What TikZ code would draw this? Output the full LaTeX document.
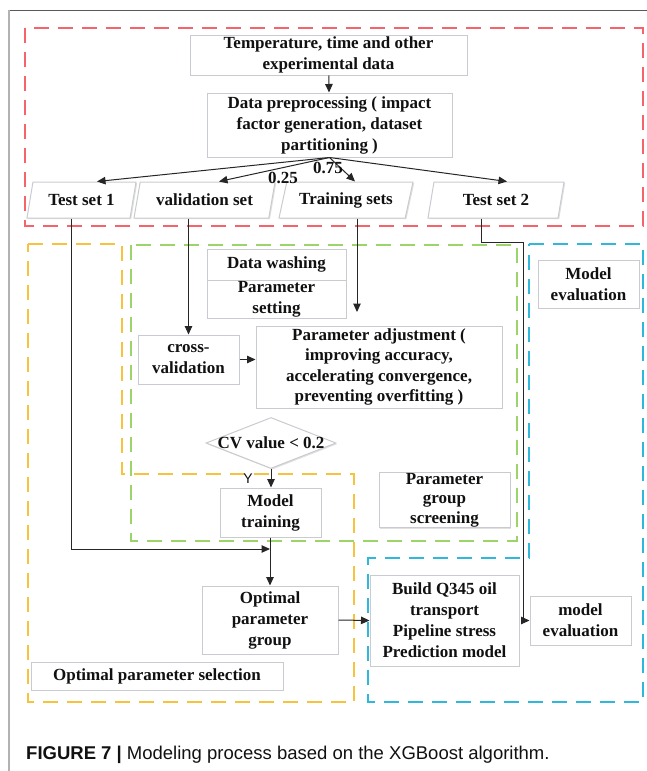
\documentclass[tikz,border=0pt]{standalone}
\usepackage{fontspec}
\setmainfont{Liberation Serif}
\newfontfamily\capfont{Liberation Sans}
\usetikzlibrary{arrows.meta,shapes.geometric,shadows}

\definecolor{redline}{HTML}{F4646A}
\definecolor{orangeline}{HTML}{F7C23E}
\definecolor{greenline}{HTML}{9DD46A}
\definecolor{blueline}{HTML}{2FB8DC}
\definecolor{boxedge}{HTML}{C8CCD0}
\definecolor{inktext}{HTML}{111111}

\tikzset{
  every node/.style={font=\fontsize{17}{21}\selectfont\bfseries, text=inktext},
  box/.style={draw=boxedge, line width=1pt, fill=white, align=center, inner sep=1pt,
    drop shadow={shadow xshift=1.2pt, shadow yshift=-1.2pt, fill=black!12, opacity=1}},
  para/.style={box, trapezium, trapezium left angle=66, trapezium right angle=114,
    trapezium stretches body, minimum height=36},
  diam/.style={box, diamond, inner sep=0pt},
  zone/.style={line width=1.6pt, dash pattern=on 15pt off 9pt},
  arr/.style={draw=black!85, line width=1pt, -{Triangle[length=8.5pt,width=7.5pt]}},
  link/.style={draw=black!85, line width=1pt},
  lab/.style={inner sep=0pt}
}

\begin{document}
\begin{tikzpicture}[x=1pt,y=-1pt]
\useasboundingbox (0,0) rectangle (647,771);
\fill[white] (0,0) rectangle (647,771);

% page frame
\draw[black!65, line width=1.2pt] (9,10.5) -- (647,10.5);
\draw[black!30, line width=1.5pt] (9,10) -- (9,771);

% dashed zones
\draw[zone, redline] (25,28) rectangle (643,226);
\draw[zone, orangeline] (28,244) -- (122,244) -- (122,474) -- (354,474) -- (354,702) -- (28,702) -- cycle;
\draw[zone, greenline] (131,245) rectangle (517,541);
\draw[zone, blueline] (529,244) -- (643,244) -- (643,702) -- (368,702) -- (368,558) -- (529,558) -- cycle;

% data preparation
\node[box, minimum width=277, minimum height=40] (top) at (328.5,55) {Temperature, time and other\\experimental data};
\node[box, minimum width=245, minimum height=64] (pre) at (329.5,125) {Data preprocessing ( impact\\factor generation, dataset\\partitioning )};

\node[para, minimum width=109] (t1) at (81.5,200) {Test set 1};
\node[para, minimum width=141] (val) at (204.5,200) {validation set};
\node[para, minimum width=134] (tr) at (346,200) {Training sets};
\node[para, minimum width=136] (t2) at (496,200) {Test set 2};

% parameter search
\node[box, minimum width=139, minimum height=31] (wash) at (276.5,264.5) {Data washing};
\node[box, minimum width=139, minimum height=38] (pset) at (276.5,299) {Parameter\\setting};
\node[box, minimum width=101, minimum height=48] (meval1) at (588.5,284) {Model\\evaluation};
\node[box, minimum width=101, minimum height=49] (cross) at (188.5,359.5) {cross-\\validation};
\node[box, minimum width=246, minimum height=82, font=\fontsize{17}{20.3}\selectfont\bfseries] (padj) at (379,367) {Parameter adjustment (\\improving accuracy,\\accelerating convergence,\\preventing overfitting )};
\node[diam, minimum width=130, minimum height=51] (cv) at (271,443) {};
\node[lab] (cvt) at (cv) {CV value < 0.2};
\node[box, minimum width=101, minimum height=49] (mtrain) at (270.5,512.5) {Model\\training};
\node[box, minimum width=131, minimum height=54, font=\fontsize{17}{19.5}\selectfont\bfseries] (pgs) at (444.5,500) {Parameter\\group\\screening};

% final model
\node[box, minimum width=136, minimum height=68] (opt) at (270,620) {Optimal\\parameter\\group};
\node[box, minimum width=149, minimum height=91] (build) at (444.5,620.5) {Build Q345 oil\\transport\\Pipeline stress\\Prediction model};
\node[box, minimum width=101, minimum height=49] (meval2) at (580.5,620.5) {model\\evaluation};
\node[box, minimum width=252, minimum height=28] (ops) at (157,676) {Optimal parameter selection};

% split of the data set
\draw[arr] (top) -- (pre);
\draw[arr] (pre.south) -- ([xshift=15.5]t1.north);
\draw[arr] (pre.south) -- ([xshift=14.5]val.north);
\draw[arr] (pre.south) -- ([xshift=9]tr.north);
\draw[arr] (pre.south) -- ([xshift=11]t2.north);
\node[lab] (r25) at (283,178) {0.25};
\node[lab] (r75) at (328,168) {0.75};

% data flows
\coordinate (j1) at (270,549);
\coordinate (trend) at (357,312);
\coordinate (k1) at (481,242);
\coordinate (k2) at (523,242);
\draw[arr] ([xshift=-10.5]t1.south) |- (j1);
\draw[arr] (cross.north |- val.south) -- (cross.north);
\draw[arr] (trend |- tr.south) -- (trend);
\draw[link] (k1 |- t2.south) -- (k1) -- (k2);
\draw[arr] (k2) |- (meval2.west);

\draw[arr] (cross.east) -- (cross.east -| padj.west);
\draw[arr] (cv.south) -- (cv.south |- mtrain.north);
\node[lab, font=\capfont\fontsize{14}{14}\selectfont] (yes) at (248,479) {Y};
\draw[arr] (mtrain.south -| j1) -- (j1 |- opt.north);
\draw[arr] (opt.east) -- (build.west);

% caption
\node[lab, anchor=base west, font=\capfont\fontsize{18.5}{20}\selectfont] (cap) at (26,759)
  {\textbf{FIGURE 7 |} Modeling process based on the XGBoost algorithm.};
\end{tikzpicture}
\end{document}
